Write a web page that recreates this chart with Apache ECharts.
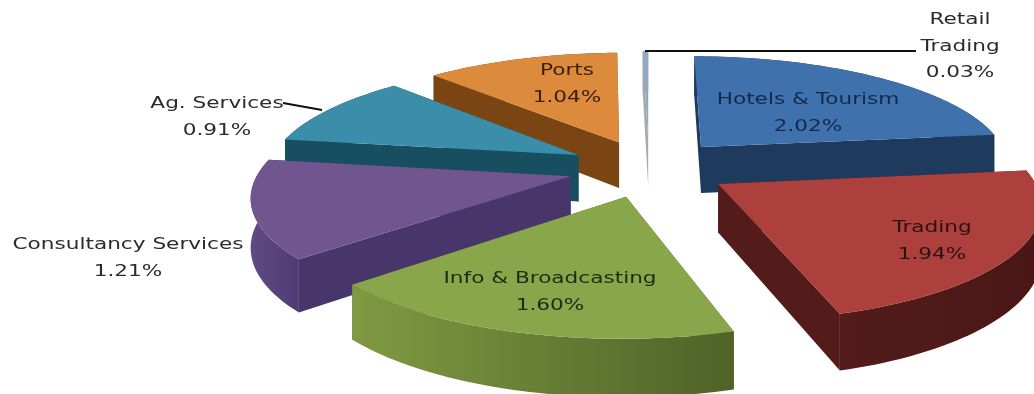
<!DOCTYPE html>
<html>
<head>
<meta charset="utf-8">
<style>html,body{margin:0;padding:0;background:#fff}#chart{width:1034px;height:394px}</style>
<script src="https://cdn.jsdelivr.net/npm/echarts@6/dist/echarts.min.js"></script>
</head>
<body>
<div id="chart"></div>
<script>
// Sector shares, in percent, clockwise from twelve o'clock
const sectors = ['Hotels & Tourism', 'Trading', 'Info & Broadcasting', 'Consultancy Services', 'Ag. Services', 'Ports', 'Retail Trading'];
const shares = [2.02, 1.94, 1.60, 1.21, 0.91, 1.04, 0.03];
const labelLines = [['Hotels & Tourism'], ['Trading'], ['Info & Broadcasting'], ['Consultancy Services'], ['Ag. Services'], ['Ports'], ['Retail', 'Trading']];

const topColors = ['#3f72ad', '#ad403c', '#8aa64b', '#71558f', '#3a8ea9', '#dc8a3c', '#8fa9c4'];
const wallColors = ['#1e3a5c', '#531c1a', '#55692b', '#48366b', '#184f60', '#7a4512', '#a8a8a8'];
const rimColors = [
  ['#1e3a5c', '#1e3a5c'], ['#531c1a', '#4a1716'], ['#7f9a42', '#4f6228'],
  ['#604a86', '#4f3c72'], ['#184f60', '#184f60'], ['#7a4512', '#7a4512'], ['#a8a8a8', '#a8a8a8']
];
const textColors = ['#14294a', '#2a1212', '#1c2c10', '#2b2b2b', '#2b2b2b', '#3a2208', '#2b2b2b'];

// Label anchors and leader lines, in page pixels
const labelAnchors = [[808, 100], [932, 228], [550, 279], [128, 245], [217, 104], [567, 71], [960, 20]];
const leaders = { 4: [[283, 103], [322, 110]], 6: [[916, 51], [645, 51]] };

// Camera for the tilted pie: unit-radius disc on a plane seen in perspective
const view = { cx: 649, cy: 168, F: 2034, K: 724, d: 6.55, H: 310, explode: 0.26 };
const depthOrder = [6, 5, 0, 4, 3, 1, 2];

const total = shares.reduce((a, b) => a + b, 0);
const project = (X, Z, drop) => {
  const w = view.d - Z;
  return [view.cx + view.F * X / w, view.cy + view.K * Z / w + (drop ? view.H / w : 0)];
};

function renderSlice(params, api) {
  const i = params.dataIndex;
  let before = 0;
  for (let k = 0; k < i; k++) before += shares[k];
  const a0 = before / total * Math.PI * 2;
  const a1 = (before + api.value(0)) / total * Math.PI * 2;
  const mid = (a0 + a1) / 2;
  const ex = Math.sin(mid) * view.explode;
  const ez = -Math.cos(mid) * view.explode;

  const rim = [];
  const steps = Math.max(2, Math.ceil((a1 - a0) / (Math.PI / 120)));
  for (let s = 0; s <= steps; s++) {
    const a = a0 + (a1 - a0) * s / steps;
    rim.push([ex + Math.sin(a), ez - Math.cos(a)]);
  }
  const pts = drop => rim.map(p => project(p[0], p[1], drop));
  const apexTop = project(ex, ez, false);
  const apexLow = project(ex, ez, true);
  const rimTop = pts(false);
  const rimLow = pts(true);
  const first = rim[0], last = rim[rim.length - 1];
  const base = depthOrder.indexOf(i) * 10;

  const wall = (end, endTop, endLow) => ({
    depth: end[1],
    points: [apexTop, endTop, endLow, apexLow]
  });
  const walls = [
    wall(first, rimTop[0], rimLow[0]),
    wall(last, rimTop[steps], rimLow[steps])
  ].sort((p, q) => p.depth - q.depth);

  const children = walls.map((w, n) => ({
    type: 'polygon',
    z2: base + n,
    shape: { points: w.points },
    style: { fill: wallColors[i] }
  }));
  children.push({
    type: 'polygon',
    z2: base + 2,
    shape: { points: rimTop.concat(rimLow.slice().reverse()) },
    style: {
      fill: new echarts.graphic.LinearGradient(0, 0, 1, 0, [
        { offset: 0, color: rimColors[i][0] },
        { offset: 1, color: rimColors[i][1] }
      ])
    }
  });
  children.push({
    type: 'polygon',
    z2: base + 3,
    shape: { points: [apexTop].concat(rimTop) },
    style: { fill: topColors[i] }
  });

  // Sector name and share
  const [lx, ly] = labelAnchors[i];
  const rows = labelLines[i].concat(api.value(0).toFixed(2) + '%');
  rows.forEach((row, n) => {
    children.push({
      type: 'text',
      z2: 1000,
      x: lx,
      y: ly + n * 26.5,
      scaleX: 1.35,
      style: {
        text: row,
        fill: textColors[i],
        font: '16px "DejaVu Sans"',
        align: 'center',
        verticalAlign: 'middle'
      }
    });
  });

  if (leaders[i]) {
    children.push({
      type: 'polyline',
      z2: 999,
      shape: { points: leaders[i] },
      style: { stroke: '#111', lineWidth: 2, fill: 'none' }
    });
  }
  return { type: 'group', children };
}

const chart = echarts.init(document.getElementById('chart'));
chart.setOption({
  animation: false,
  backgroundColor: '#fff',
  series: [{
    type: 'custom',
    coordinateSystem: 'none',
    silent: true,
    clip: false,
    renderItem: renderSlice,
    data: sectors.map((name, i) => ({ name, value: [shares[i]] }))
  }]
});
</script>
</body>
</html>
